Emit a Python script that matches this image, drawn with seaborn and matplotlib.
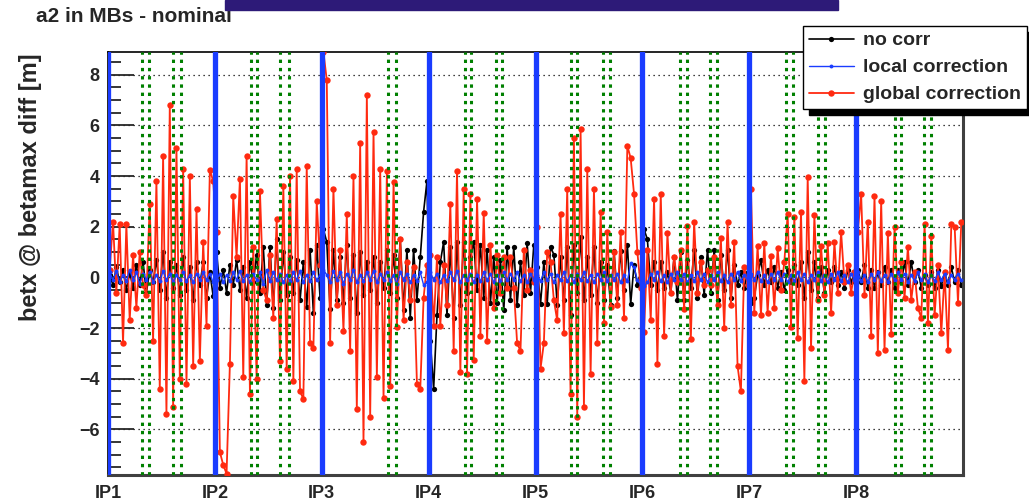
import numpy as np
import pandas as pd
import matplotlib
matplotlib.use('Agg')
import matplotlib.pyplot as plt
import seaborn as sns
from matplotlib.ticker import MultipleLocator
from matplotlib.patches import Rectangle

# betx @ betamax diff [m], 32 BPMs per octant
red_o1 = [0.3, 2.2, -0.6, 2.1, -2.6, 2.1, -1.7, 0.9, -1.2, 1.0, -0.3, -0.7, 2.9, -2.5, 3.8, -4.4,
          4.8, -5.4, 6.8, -5.1, 5.1, -4.0, 4.3, -4.2, 4.0, -3.5, 2.7, -3.3, 1.4, -1.9, 4.25, 3.8]
red_o2 = [1.8, -6.9, -7.4, -7.75, -3.4, 3.2, 0.8, 3.9, -3.95, 4.8, -4.6, 1.2, -4.0, 3.4, -0.5, -0.9,
          0.9, -1.6, 2.3, -3.3, 3.6, -3.6, 4.0, -4.1, 4.3, -4.5, -4.8, 4.4, -2.6, -2.8, 3.0, 0.5]
red_o3 = [8.9, 7.8, -2.6, 3.5, -1.1, 1.1, -2.1, 2.5, -2.9, 4.0, -5.2, 5.3, -6.5, 7.2, -5.5, 5.75,
          -3.95, 4.3, -4.75, 4.2, -4.3, 3.75, -1.95, 1.5, -1.7, 0.6, -0.9, 0.4, -4.2, -4.4, -0.8, 0.5]
red_o4 = [0.9, -1.9, 0.8, -1.9, 0.5, -1.1, 2.9, -2.9, 4.2, -3.75, 3.5, -3.8, 3.3, -3.25, 3.1, -2.3,
          2.55, -2.5, 1.3, -1.2, 0.9, -0.6, 0.8, -0.4, 0.8, -0.4, -2.6, -2.9, 1.1, -0.5, 0.3, -0.2]
red_o5 = [2.0, -3.6, -2.6, 1.0, 0.6, -0.9, -1.7, 2.5, -2.2, 3.5, -4.6, 5.5, -5.5, 5.85, -5.1, 4.3,
          -3.8, 3.5, -2.6, 2.6, -1.8, 1.8, -1.15, 1.0, -1.1, 1.8, -1.6, 5.2, 4.7, 3.3, 1.0, -0.4]
red_o6 = [-2.15, 1.1, -1.7, 3.1, -3.4, 3.3, -2.3, 1.75, -0.6, 0.8, -0.2, 1.1, -1.25, 2.05, -2.45, 2.2,
          -0.6, 0.6, -0.3, 0.3, -0.3, 0.8, -1.1, 1.55, -2.0, 2.2, -1.1, 1.4, -3.5, -4.5, 0.4, -0.3]
red_o7 = [3.5, -1.4, 1.25, -1.5, 1.35, -1.4, 0.85, -1.2, 1.15, -0.5, 0.6, 2.5, -1.95, 2.4, -2.4, 2.6,
          -4.1, 3.95, -2.8, 2.45, -0.9, 1.25, -0.7, 1.35, -1.4, 1.4, -0.6, 1.8, -0.2, 0.5, -0.6, 0.2]
red_o8 = [1.8, 3.3, -0.7, 2.2, -2.3, 3.2, -3.0, 3.0, -2.85, 1.75, -2.25, 2.0, -0.6, 0.6, -0.8, 1.2,
          -0.9, 0.2, -1.2, -1.6, 2.1, -1.8, 1.65, -1.5, 0.5, -2.2, 0.2, -2.85, 2.1, 2.0, -1.0, 2.2]

blk_o1 = [0.1, -0.3, 0.4, -0.2, 0.3, -0.5, 0.2, -0.4, 0.5, -0.3, 0.6, -0.6, 0.3, -0.2, 0.7, -0.5,
          1.0, -0.8, 0.6, -0.4, 0.5, -0.7, 0.8, -0.5, 0.4, -0.9, 0.6, -0.3, 0.6, -0.8, 0.2, -0.75]
blk_o2 = [1.0, -0.4, 0.3, -0.6, 0.5, -0.3, 0.7, -0.5, 0.4, -0.8, 0.6, -0.2, 0.9, -0.6, 1.2, -1.1,
          1.2, -1.2, 1.5, -0.9, 1.0, -0.7, 0.8, -0.6, 0.7, -0.9, 0.6, -1.15, 1.1, -1.4, 1.3, -0.8]
blk_o3 = [1.9, 1.4, -1.25, 1.1, -0.9, 0.8, -1.0, 1.3, -0.8, 0.9, -1.4, 1.0, -0.7, 0.6, -0.5, 0.8,
          -1.0, 0.6, -0.4, 1.1, -0.6, 0.9, -0.8, 1.5, -1.3, 1.1, -1.6, 1.1, -0.9, 0.8, 2.6, 3.8]
blk_o4 = [-2.5, -4.4, -1.5, 0.6, 1.4, -1.5, 1.2, -1.6, 1.4, -1.1, 1.4, -0.6, 0.8, 1.4, -0.5, 1.3,
          -0.8, 1.1, -1.0, 0.8, -1.0, 0.7, -1.3, 1.2, -0.9, 1.2, -1.1, 0.6, -0.7, 1.35, -0.6, 1.3]
blk_o5 = [0.4, -1.05, 0.6, -1.05, 1.2, 0.9, -1.1, 0.8, -0.9, 1.2, -1.5, 1.3, -0.6, 1.6, -0.9, 0.8,
          -0.7, 1.2, -1.0, 0.6, -0.9, 0.5, -1.1, 1.05, -0.8, 1.05, -0.5, 1.3, -1.05, 0.5, -0.3, 0.2]
blk_o6 = [1.9, 1.5, -0.3, 0.6, -0.5, 0.6, -0.4, 0.2, -0.6, 0.8, -0.9, 1.0, -0.9, 0.7, -0.4, 1.1,
          -0.8, 0.8, -0.7, 1.1, -0.6, 1.1, -0.9, 0.9, -0.5, 1.1, -0.8, 0.5, -0.3, 0.2, -0.4, 0.2]
blk_o7 = [-1.0, -0.8, 0.1, 0.7, -0.3, 0.3, -0.2, 0.4, -0.4, 0.2, -0.5, 0.3, -0.2, 0.5, -0.3, 0.6,
          -0.8, 1.0, -0.5, 0.6, -0.8, 0.4, -0.6, 0.3, -0.2, 0.4, -0.3, 0.2, -0.4, 0.3, -0.2, 0.2]
blk_o8 = [0.3, -0.2, 0.5, -0.4, 0.3, -0.4, 0.2, -0.3, 0.4, -0.2, 0.3, -0.4, 0.3, -0.2, 0.6, -0.3,
          0.6, -0.2, 0.3, -0.4, 0.1, -0.3, 0.2, -0.4, 0.3, -0.35, 0.2, -0.3, 0.4, -0.2, 0.3, -0.3]

blu_o1 = [0.2, -0.1, 0.25, -0.2, 0.1, -0.15, 0.3, -0.1, 0.2, -0.25, 0.15, -0.1, 0.2, -0.2, 0.1, -0.15,
          0.25, -0.1, 0.15, -0.2, 0.1, -0.1, 0.2, -0.15, 0.1, -0.2, 0.15, -0.1, 0.2, -0.1, 0.15, -0.2]
blu_o2 = [-0.1, 0.15, -0.2, 0.1, -0.15, 0.2, -0.1, 0.25, -0.15, 0.1, -0.2, 0.15, -0.1, 0.2, -0.25, 0.3,
          -0.15, 0.2, -0.1, 0.15, -0.2, 0.1, -0.15, 0.2, -0.1, 0.25, -0.2, 0.1, -0.15, 0.2, -0.1, 0.1]
blu_o3 = [0.3, 0.1, -0.2, 0.25, -0.1, 0.2, -0.25, 0.15, -0.1, 0.3, -0.2, 0.1, -0.15, 0.2, -0.1, 0.25,
          -0.2, 0.15, -0.1, 0.2, -0.15, 0.1, -0.25, 0.2, -0.1, 0.15, -0.2, 0.1, -0.15, 0.2, -0.3, -0.2]
blu_o4 = [0.2, -0.1, 0.15, -0.2, 0.1, -0.15, 0.2, -0.1, 0.25, -0.2, 0.1, -0.1, 0.15, -0.2, 0.1, -0.15,
          0.2, -0.1, 0.15, -0.2, 0.1, -0.15, 0.2, -0.1, 0.15, -0.1, 0.2, -0.15, 0.1, -0.2, 0.15, -0.1]
blu_o5 = [0.1, -0.15, 0.2, -0.1, 0.15, -0.2, 0.1, -0.1, 0.2, -0.15, 0.1, -0.2, 0.15, -0.1, 0.2, -0.15,
          0.1, -0.2, 0.15, -0.1, 0.2, -0.15, 0.1, -0.1, 0.15, -0.2, 0.1, -0.15, 0.55, 0.4, -0.1, -0.3]
blu_o6 = [-0.35, -0.2, 0.15, -0.1, 0.2, -0.15, 0.1, -0.2, 0.15, -0.1, 0.2, -0.1, 0.15, -0.2, 0.1, -0.15,
          0.2, -0.1, 0.15, -0.2, 0.1, -0.1, 0.2, -0.15, 0.1, -0.2, 0.15, -0.1, 0.2, -0.15, 0.1, -0.1]
blu_o7 = [0.15, -0.1, 0.2, -0.15, 0.1, -0.2, 0.15, -0.1, 0.2, -0.1, 0.15, -0.2, 0.1, -0.15, 0.2, -0.1,
          0.15, -0.2, 0.1, -0.1, 0.2, -0.15, 0.1, -0.2, 0.15, -0.1, 0.2, -0.15, 0.1, -0.2, 0.15, -0.1]
blu_o8 = [0.2, -0.15, 0.1, -0.2, 0.15, -0.1, 0.2, -0.15, 0.1, -0.2, 0.15, -0.1, 0.2, -0.1, 0.15, -0.2,
          0.1, -0.15, 0.2, -0.1, 0.15, -0.2, 0.1, -0.15, 0.2, -0.1, 0.15, -0.2, 0.1, -0.1, 0.15, -0.1]

global_corr = red_o1 + red_o2 + red_o3 + red_o4 + red_o5 + red_o6 + red_o7 + red_o8
no_corr = blk_o1 + blk_o2 + blk_o3 + blk_o4 + blk_o5 + blk_o6 + blk_o7 + blk_o8
local_corr = blu_o1 + blu_o2 + blu_o3 + blu_o4 + blu_o5 + blu_o6 + blu_o7 + blu_o8

ip_labels = ['IP1', 'IP2', 'IP3', 'IP4', 'IP5', 'IP6', 'IP7', 'IP8']
bpm_per_octant = 32
# dispersion suppressor markers (BPM index units)
green_pos = [10.2, 12.4, 19.6, 21.8, 42.9, 44.7, 51.6, 54.1, 83.8, 86.1,
             106.9, 108.8, 116.2, 118.1, 138.6, 140.5, 148.2, 150.4,
             171.2, 173.4, 180.2, 182.4, 203.0, 205.0, 212.7, 214.7,
             235.5, 237.4, 244.4, 246.4]

n_bpm = bpm_per_octant * len(ip_labels)
df = pd.DataFrame({
    's': np.arange(n_bpm) + 0.5,
    'no corr': no_corr,
    'local correction': local_corr,
    'global correction': global_corr,
})
ip_pos = np.arange(len(ip_labels)) * bpm_per_octant

sns.set_theme(style='white')
plt.rcParams['font.family'] = ['Liberation Sans', 'DejaVu Sans']
plt.rcParams['font.weight'] = 'bold'

fig = plt.figure(figsize=(10.29, 5.0), dpi=100)
ax = fig.add_axes([108 / 1029, 1 - 475 / 500, 855 / 1029, 423 / 500])

red = '#ff2a10'
blue = '#1a3cff'
sns.lineplot(data=df, x='s', y='no corr', ax=ax, color='black', lw=1.2,
             marker='o', markersize=3.8, markeredgecolor='black', markeredgewidth=0,
             estimator=None, errorbar=None, label='no corr', zorder=2)
sns.lineplot(data=df, x='s', y='global correction', ax=ax, color=red, lw=1.3,
             marker='o', markersize=4.6, markeredgecolor=red, markeredgewidth=0,
             estimator=None, errorbar=None, label='global correction', zorder=3)
sns.lineplot(data=df, x='s', y='local correction', ax=ax, color=blue, lw=1.0,
             marker='o', markersize=2.8, markeredgecolor=blue, markeredgewidth=0,
             estimator=None, errorbar=None, label='local correction', zorder=4)

for g in green_pos:
    ax.axvline(g, color='#008000', lw=2.2, linestyle=(0, (1.1, 1.6)), zorder=5)
for p in ip_pos:
    ax.axvline(p, color=blue, lw=3.8, zorder=6)

ax.set_xlim(0, n_bpm)
ax.set_ylim(-7.8, 8.9)
ax.set_xticks(ip_pos)
ax.set_xticklabels(ip_labels)
ax.yaxis.set_major_locator(MultipleLocator(2))
ax.yaxis.set_minor_locator(MultipleLocator(0.5))
ax.tick_params(axis='y', which='major', direction='in', length=19, width=1.3,
               labelsize=13, pad=6, left=True)
ax.tick_params(axis='y', which='minor', direction='in', length=9, width=1.3, left=True)
ax.tick_params(axis='x', length=0, labelsize=13, pad=7)
ax.yaxis.grid(True, which='major', color='black', lw=0.9, linestyle=(0, (1, 3)))
ax.set_xlabel('')
ax.set_ylabel('')

for side in ['top', 'left']:
    ax.spines[side].set_color('black')
    ax.spines[side].set_linewidth(1.2)
for side in ['right', 'bottom']:
    ax.spines[side].set_color('#404040')
    ax.spines[side].set_linewidth(2.2)

fig.text(36 / 1029, 1 - 16 / 500, 'a2 in MBs - nominal', fontsize=15, fontweight='bold',
         ha='left', va='center')
fig.text(31 / 1029, 1 - 53 / 500, 'betx @ betamax diff [m]', fontsize=17, fontweight='bold',
         rotation=90, ha='center', va='top')
fig.patches.append(Rectangle((225 / 1029, 1 - 10 / 500), 613 / 1029, 10 / 500,
                             transform=fig.transFigure, color='#2d1a78', zorder=10))

handles, labels = ax.get_legend_handles_labels()
order = [labels.index(n) for n in ['no corr', 'local correction', 'global correction']]
leg = ax.legend([handles[i] for i in order], [labels[i] for i in order],
                loc='upper left', bbox_to_anchor=(803 / 1029, 1 - 26 / 500),
                bbox_transform=fig.transFigure, borderaxespad=0, fontsize=14,
                frameon=True, fancybox=False, framealpha=1, edgecolor='black',
                handlelength=2.3, handletextpad=0.5, labelspacing=0.48, borderpad=0.3,
                shadow={'ox': 4, 'oy': -4, 'color': 'black', 'alpha': 1})
leg.get_frame().set_linewidth(1.0)
leg.set_zorder(20)

fig.savefig('out.png', dpi=100, facecolor='white')
